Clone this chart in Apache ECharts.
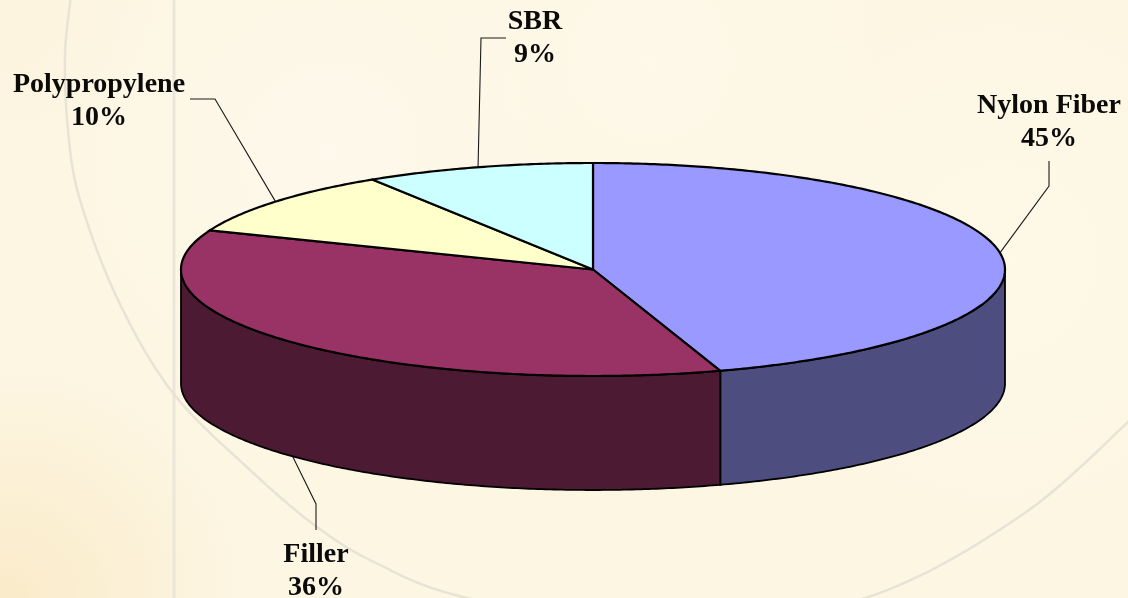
<!DOCTYPE html>
<html>
<head>
<meta charset="utf-8">
<style>html,body{margin:0;padding:0;background:#fdf7e6}#c{width:1128px;height:598px}</style>
<script src="https://cdn.jsdelivr.net/npm/echarts@6/dist/echarts.min.js"></script>
</head>
<body>
<div id="c"></div>
<script>
const categories = ['Nylon Fiber', 'Filler', 'Polypropylene', 'SBR'];
const percentages = [45, 36, 10, 9];
const topColors = ['#9999FF', '#993366', '#FFFFCC', '#CCFFFF'];
const sideColors = ['#4D4D80', '#4D1A33', '#808066', '#668080'];
const labelBoxes = [[1049, 122], [316, 571], [99, 101], [535, 38]];
const leaderElbows = [
  [[1049, 186], [1049, 161]],
  [[316, 504], [316, 530]],
  [[215, 99], [190, 99]],
  [[481, 38], [506, 38]]
];
const arcGuide = [[71,-5],[65,55],[68,130],[80,200],[118,300],[173,393],[250,470],[317,527],[376,563],[463,597],[660,634],[865,598],[1019,517],[1128,422],[1145,402]];

const CX = 593, CY = 269.5, RX = 412, RY = 106.5, DEPTH = 114;
const total = percentages.reduce((a, b) => a + b, 0);
const starts = [];
percentages.reduce((acc, v, i) => { starts[i] = acc; return acc + v; }, 0);
const ang = p => p / total * Math.PI * 2;
const pt = (t, dy) => [CX + RX * Math.sin(t), CY - RY * Math.cos(t) + (dy || 0)];
function arc(a, b, dy) {
  const n = Math.max(2, Math.ceil(Math.abs(b - a) / 0.01)), out = [];
  for (let i = 0; i <= n; i++) out.push(pt(a + (b - a) * i / n, dy));
  return out;
}
function spline(p) {
  const out = [];
  for (let i = 0; i < p.length - 1; i++) {
    const p0 = p[Math.max(0, i - 1)], p1 = p[i], p2 = p[i + 1], p3 = p[Math.min(p.length - 1, i + 2)];
    for (let k = 0; k < 16; k++) {
      const t = k / 16, t2 = t * t, t3 = t2 * t;
      out.push([0, 1].map(d => 0.5 * (2 * p1[d] + (p2[d] - p0[d]) * t + (2 * p0[d] - 5 * p1[d] + 4 * p2[d] - p3[d]) * t2 + (3 * p1[d] - p0[d] - 3 * p2[d] + p3[d]) * t3)));
    }
  }
  return out;
}
function renderSide(params) {
  const i = params.dataIndex;
  const a = Math.max(ang(starts[i]), Math.PI / 2);
  const b = Math.min(ang(starts[i] + percentages[i]), Math.PI * 1.5);
  if (b <= a) return { type: 'group', children: [] };
  return {
    type: 'polygon',
    shape: { points: arc(a, b, 0).concat(arc(b, a, DEPTH)) },
    style: { fill: sideColors[i], stroke: '#000', lineWidth: 1.8, lineJoin: 'round' }
  };
}
function renderTop(params) {
  const i = params.dataIndex;
  const a = ang(starts[i]), b = ang(starts[i] + percentages[i]);
  return {
    type: 'polygon',
    shape: { points: [[CX, CY]].concat(arc(a, b, 0)) },
    style: { fill: topColors[i], stroke: '#000', lineWidth: 2.2, lineJoin: 'round' }
  };
}
function renderLabel(params) {
  const i = params.dataIndex;
  const mid = ang(starts[i] + percentages[i] / 2);
  const front = Math.cos(mid) < 0;
  const start = pt(mid, front ? DEPTH : 0);
  return {
    type: 'group',
    children: [
      { type: 'polyline', shape: { points: [start].concat(leaderElbows[i]) },
        style: { fill: 'none', stroke: '#1a1a1a', lineWidth: 1.1 } },
      { type: 'text', x: labelBoxes[i][0], y: labelBoxes[i][1],
        style: { text: categories[i] + '\n' + percentages[i] + '%', align: 'center', verticalAlign: 'middle',
          fontFamily: '"Liberation Serif", serif', fontWeight: 'bold', fontSize: 28, lineHeight: 33, fill: '#0a0a0a' } }
    ]
  };
}
const rows = categories.map((c, i) => [c, percentages[i]]);
const chart = echarts.init(document.getElementById('c'), null, { renderer: 'canvas', width: 1128, height: 598 });
const washes = [
  { x: 10, y: 598, r: 240, c: 'rgba(247,226,180,0.55)' },
  { x: 0, y: 0, r: 170, c: 'rgba(250,236,205,0.25)' },
  { x: 330, y: 150, r: 260, c: 'rgba(255,250,242,0.6)' },
  { x: 650, y: 60, r: 240, c: 'rgba(255,250,238,0.6)' },
  { x: 1000, y: 260, r: 260, c: 'rgba(255,251,236,0.5)' }
];
chart.setOption({
  backgroundColor: '#fdf6e3',
  animation: false,
  graphic: { elements: washes.map(w => ({
      type: 'circle', silent: true, z: -10, shape: { cx: w.x, cy: w.y, r: w.r },
      style: { fill: { type: 'radial', x: 0.5, y: 0.5, r: 0.5, colorStops: [
        { offset: 0, color: w.c }, { offset: 1, color: w.c.replace(/[\d.]+\)$/, '0)') } ] } }
    })).concat([
      { type: 'rect', silent: true, z: -9, shape: { x: 172.5, y: 0, width: 3, height: 598 }, style: { fill: '#ebe6da' } },
      { type: 'polyline', silent: true, z: -9, shape: { points: spline(arcGuide) },
        style: { fill: 'none', stroke: '#e8e3d6', lineWidth: 2.5 } }
    ]) },
  series: [
    { type: 'custom', coordinateSystem: 'none', z: 2, data: rows, renderItem: renderSide },
    { type: 'custom', coordinateSystem: 'none', z: 3, data: rows, renderItem: renderTop },
    { type: 'custom', coordinateSystem: 'none', z: 1, data: rows, renderItem: renderLabel }
  ]
});
</script>
</body>
</html>
